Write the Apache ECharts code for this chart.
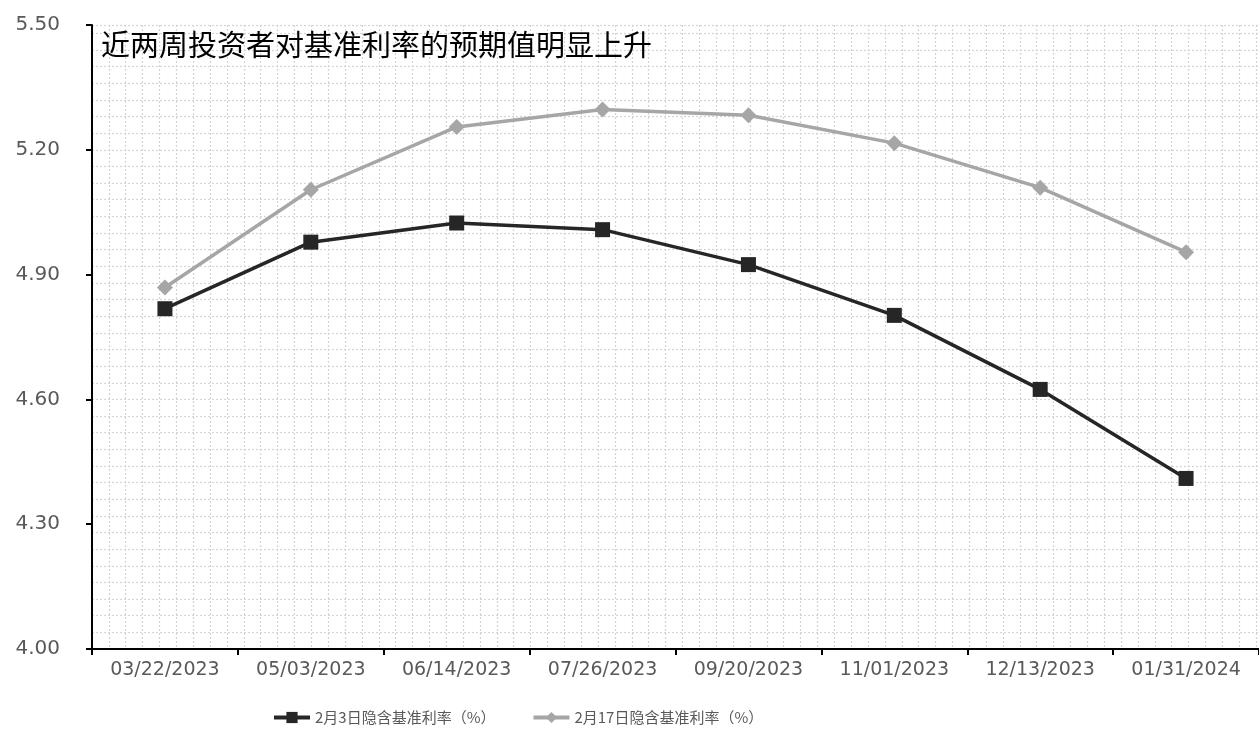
<!DOCTYPE html>
<html>
<head>
<meta charset="utf-8">
<title>隐含基准利率</title>
<script src="https://cdn.jsdelivr.net/npm/echarts@6/dist/echarts.min.js"></script>
<style>
  html, body { margin: 0; padding: 0; background: #ffffff; }
  #chart { width: 1259px; height: 733px; }
</style>
</head>
<body>
<div id="chart"></div>
<script>
// Meeting dates on the category axis
const dates = ['03/22/2023', '05/03/2023', '06/14/2023', '07/26/2023',
               '09/20/2023', '11/01/2023', '12/13/2023', '01/31/2024'];

// Implied policy rate (%) as priced on Feb 3
const impliedFeb3 = [4.818, 4.978, 5.024, 5.008, 4.924, 4.802, 4.624, 4.410];

// Implied policy rate (%) as priced on Feb 17
const impliedFeb17 = [4.869, 5.104, 5.255, 5.297, 5.283, 5.216, 5.109, 4.954];

const seriesNames = ['2月3日隐含基准利率（%）', '2月17日隐含基准利率（%）'];
const titleText = '近两周投资者对基准利率的预期值明显上升';

const CJK = '"Noto Sans CJK SC", "Noto Sans", sans-serif';
const NUM = '"DejaVu Sans", "Noto Sans", sans-serif';
const GRID_LEFT = 92, GRID_RIGHT = -9, GRID_TOP = 25, GRID_BOTTOM = 84;
const plotWidth = 1259 - GRID_LEFT - GRID_RIGHT;

const dotted = { show: true, lineStyle: { color: '#d4d4d4', width: 1.2, type: [2, 2] } };

const chart = echarts.init(document.getElementById('chart'), null, { renderer: 'canvas' });

chart.setOption({
  backgroundColor: '#ffffff',
  animation: false,
  title: {
    text: titleText,
    left: 96,
    top: 25,
    textStyle: { fontFamily: CJK, fontSize: 29, fontWeight: 'normal', color: '#000000' }
  },
  legend: {
    left: 272,
    top: 710,
    padding: 0,
    itemWidth: 36,
    itemHeight: 14,
    itemGap: 36,
    lineStyle: { width: 4 },
    textStyle: { fontFamily: CJK, fontSize: 15, color: '#595959' },
    data: seriesNames
  },
  grid: { left: GRID_LEFT, right: GRID_RIGHT, top: GRID_TOP, bottom: GRID_BOTTOM, containLabel: false },
  xAxis: [
    {
      type: 'category',
      data: dates,
      boundaryGap: true,
      axisLine: { lineStyle: { color: '#000000', width: 2 } },
      axisTick: { show: true, length: 6, lineStyle: { color: '#000000', width: 2 } },
      axisLabel: { fontFamily: NUM, fontSize: 19, color: '#595959', margin: 12 },
      splitLine: { show: false },
      z: 5
    },
    {
      // background dot lattice, vertical strokes
      type: 'value',
      min: 0,
      max: plotWidth,
      interval: 17,
      position: 'top',
      axisLine: { show: false },
      axisTick: { show: false },
      axisLabel: { show: false },
      splitLine: dotted
    }
  ],
  yAxis: [
    {
      type: 'value',
      min: 4.0,
      max: 5.5,
      interval: 0.3,
      axisLine: { show: true, lineStyle: { color: '#000000', width: 2 } },
      axisTick: { show: true, length: 6, lineStyle: { color: '#000000', width: 2 } },
      axisLabel: {
        fontFamily: NUM, fontSize: 20, color: '#595959', margin: 32,
        formatter: v => v.toFixed(2)
      },
      splitLine: { show: false },
      z: 5
    },
    {
      // background dot lattice, horizontal strokes
      type: 'value',
      min: 4.0,
      max: 5.5,
      interval: 0.04,
      position: 'right',
      axisLine: { show: false },
      axisTick: { show: false },
      axisLabel: { show: false },
      splitLine: dotted
    }
  ],
  series: [
    {
      name: seriesNames[0],
      type: 'line',
      data: impliedFeb3,
      xAxisIndex: 0,
      yAxisIndex: 0,
      symbol: 'rect',
      symbolSize: 15,
      lineStyle: { color: '#262626', width: 3.5 },
      itemStyle: { color: '#262626' },
      z: 4
    },
    {
      name: seriesNames[1],
      type: 'line',
      data: impliedFeb17,
      xAxisIndex: 0,
      yAxisIndex: 0,
      symbol: 'diamond',
      symbolSize: 16,
      lineStyle: { color: '#a6a6a6', width: 3.5 },
      itemStyle: { color: '#a6a6a6' },
      z: 3
    }
  ]
});
</script>
</body>
</html>
